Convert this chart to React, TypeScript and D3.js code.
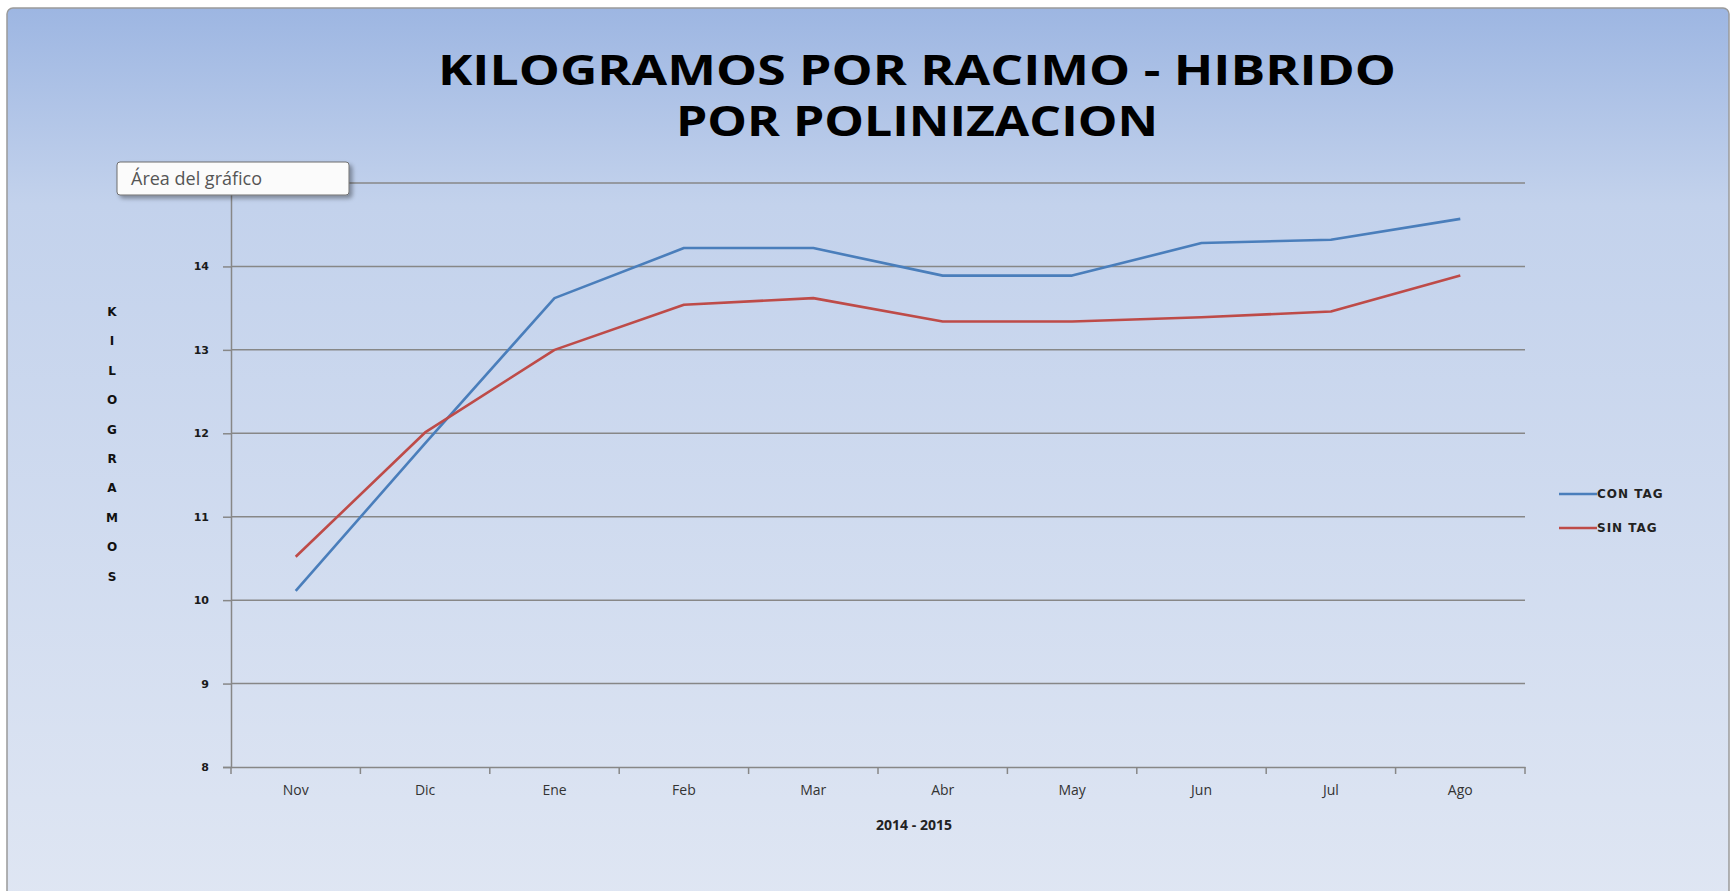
import React, { useEffect, useRef } from 'react';
import * as d3 from 'd3';

const months = ['Nov', 'Dic', 'Ene', 'Feb', 'Mar', 'Abr', 'May', 'Jun', 'Jul', 'Ago'];
const conTag = [10.11, 11.88, 13.62, 14.22, 14.22, 13.89, 13.89, 14.28, 14.32, 14.57];
const sinTag = [10.52, 12.01, 13.0, 13.54, 13.62, 13.34, 13.34, 13.39, 13.46, 13.89];
const yTicks = [8, 9, 10, 11, 12, 13, 14, 15];
const titleLines = ['KILOGRAMOS POR RACIMO - HIBRIDO', 'POR POLINIZACION'];
const yTitle = 'KILOGRAMOS';
const xTitle = '2014 - 2015';
const seriesNames = ['CON TAG', 'SIN TAG'];
const seriesColors = ['#4a7ebb', '#be4b48'];

export default function App() {
  const svgRef = useRef<SVGSVGElement>(null);

  useEffect(() => {
    document.body.style.margin = '0';
    if (!svgRef.current) return;

    const svg = d3.select(svgRef.current);
    svg.selectAll('*').remove();

    const width = 1736;
    const height = 891;
    const plot = { left: 231, right: 1525, top: 183, bottom: 767 };

    svg.attr('width', width).attr('height', height);

    // background gradient
    const defs = svg.append('defs');
    const grad = defs
      .append('linearGradient')
      .attr('id', 'bg')
      .attr('x1', 0)
      .attr('y1', 0)
      .attr('x2', 0)
      .attr('y2', 1);
    grad.append('stop').attr('offset', '0%').attr('stop-color', '#9db6e2');
    grad.append('stop').attr('offset', '22%').attr('stop-color', '#c3d2ec');
    grad.append('stop').attr('offset', '100%').attr('stop-color', '#dfe6f3');

    const shadow = defs.append('filter').attr('id', 'tipShadow').attr('x', '-10%').attr('y', '-20%').attr('width', '130%').attr('height', '170%');
    shadow.append('feDropShadow').attr('dx', 3).attr('dy', 3).attr('stdDeviation', 2).attr('flood-color', '#000').attr('flood-opacity', 0.35);

    svg.append('rect').attr('width', width).attr('height', height).attr('fill', '#ffffff');
    svg
      .append('rect')
      .attr('x', 7)
      .attr('y', 8)
      .attr('width', 1722)
      .attr('height', 895)
      .attr('rx', 6)
      .attr('fill', 'url(#bg)')
      .attr('stroke', '#9a9a9a')
      .attr('stroke-width', 1.5);

    // scales
    const x = d3.scaleBand().domain(months).range([plot.left, plot.right]);
    const y = d3.scaleLinear().domain([8, 15]).range([plot.bottom, plot.top]);
    const cx = (m: string) => x(m)! + x.bandwidth() / 2;

    // gridlines
    svg
      .append('g')
      .selectAll('line')
      .data(yTicks.slice(1))
      .join('line')
      .attr('x1', plot.left)
      .attr('x2', plot.right)
      .attr('y1', (d) => y(d))
      .attr('y2', (d) => y(d))
      .attr('stroke', '#878787')
      .attr('stroke-width', 1.5);

    // y axis (15 label sits under the tooltip in the original)
    const yAxis = svg
      .append('g')
      .attr('transform', `translate(${plot.left},0)`)
      .call(
        d3
          .axisLeft(y)
          .tickValues(yTicks)
          .tickFormat((d) => (+d === 15 ? '' : d3.format('d')(+d)))
          .tickSize(8)
          .tickPadding(14)
      );
    yAxis.select('.domain').attr('stroke', '#878787').attr('stroke-width', 1.5);
    yAxis.selectAll('.tick line').attr('stroke', '#878787').attr('stroke-width', 1.5);
    yAxis
      .selectAll('.tick text')
      .attr('fill', '#1a1a1a')
      .attr('font-family', 'Verdana, "DejaVu Sans", sans-serif')
      .attr('font-weight', 'bold')
      .attr('font-size', 11);

    // x axis
    const xAxis = svg
      .append('g')
      .attr('transform', `translate(0,${plot.bottom})`)
      .call(d3.axisBottom(x).tickSize(0).tickPadding(18));
    xAxis.select('.domain').attr('stroke', '#878787').attr('stroke-width', 1.5);
    xAxis
      .selectAll('.tick text')
      .attr('fill', '#333333')
      .attr('font-family', '"Open Sans", sans-serif')
      .attr('font-size', 14);
    // category boundary ticks
    svg
      .append('g')
      .selectAll('line')
      .data(months.concat(['__end']))
      .join('line')
      .attr('x1', (d) => (d === '__end' ? plot.right : x(d)!))
      .attr('x2', (d) => (d === '__end' ? plot.right : x(d)!))
      .attr('y1', plot.bottom)
      .attr('y2', plot.bottom + 7)
      .attr('stroke', '#878787')
      .attr('stroke-width', 1.5);

    // lines
    const series = [conTag, sinTag];
    const line = d3
      .line<number>()
      .x((_, i) => cx(months[i]))
      .y((d) => y(d));
    series.forEach((vals, i) => {
      svg
        .append('path')
        .datum(vals)
        .attr('d', line)
        .attr('fill', 'none')
        .attr('stroke', seriesColors[i])
        .attr('stroke-width', 2.6)
        .attr('stroke-linejoin', 'round');
    });

    // title
    titleLines.forEach((t, i) => {
      svg
        .append('text')
        .attr('x', 917)
        .attr('y', 85 + i * 51)
        .attr('text-anchor', 'middle')
        .attr('font-family', '"Open Sans", sans-serif')
        .attr('font-weight', 'bold')
        .attr('font-size', 41)
        .attr('textLength', i === 0 ? 958 : 482)
        .attr('lengthAdjust', 'spacingAndGlyphs')
        .attr('fill', '#000')
        .text(t);
    });

    // y title, stacked letters
    yTitle.split('').forEach((ch, i) => {
      svg
        .append('text')
        .attr('x', 112)
        .attr('y', 316 + i * 29.4)
        .attr('text-anchor', 'middle')
        .attr('font-family', 'Verdana, "DejaVu Sans", sans-serif')
        .attr('font-weight', 'bold')
        .attr('font-size', 12)
        .attr('fill', '#111')
        .text(ch);
    });

    // x title
    svg
      .append('text')
      .attr('x', 914)
      .attr('y', 830)
      .attr('text-anchor', 'middle')
      .attr('font-family', '"Open Sans", sans-serif')
      .attr('font-weight', 'bold')
      .attr('font-size', 14)
      .attr('fill', '#222')
      .text(xTitle);

    // legend
    seriesNames.forEach((name, i) => {
      const ly = 494 + i * 34;
      svg
        .append('line')
        .attr('x1', 1559)
        .attr('x2', 1597)
        .attr('y1', ly)
        .attr('y2', ly)
        .attr('stroke', seriesColors[i])
        .attr('stroke-width', 2.6);
      svg
        .append('text')
        .attr('x', 1597)
        .attr('y', ly)
        .attr('dominant-baseline', 'middle')
        .attr('font-family', 'Verdana, "DejaVu Sans", sans-serif')
        .attr('font-weight', 'bold')
        .attr('font-size', 12)
        .attr('letter-spacing', 1)
        .attr('fill', '#222')
        .text(name);
    });

    // "Área del gráfico" tooltip
    const tip = svg.append('g');
    tip
      .append('rect')
      .attr('x', 117)
      .attr('y', 162)
      .attr('width', 232)
      .attr('height', 33)
      .attr('rx', 3)
      .attr('fill', '#fbfbfb')
      .attr('stroke', '#6f6f6f')
      .attr('stroke-width', 1)
      .attr('filter', 'url(#tipShadow)');
    tip
      .append('text')
      .attr('x', 131)
      .attr('y', 185)
      .attr('font-family', '"Open Sans", sans-serif')
      .attr('font-size', 18)
      .attr('fill', '#555')
      .text('Área del gráfico');
  }, []);

  return (
    <svg ref={svgRef} style={{ position: 'absolute', left: 0, top: 0, display: 'block' }}></svg>
  );
}
